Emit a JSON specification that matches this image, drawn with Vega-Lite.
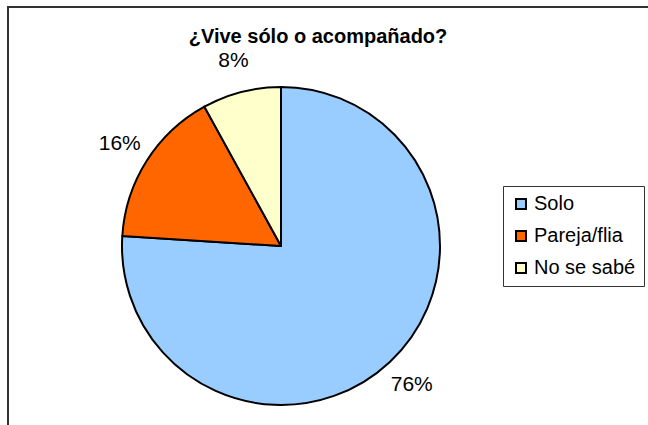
{
  "$schema": "https://vega.github.io/schema/vega-lite/v6.json",
  "width": 660,
  "height": 440,
  "autosize": {"type": "none"},
  "padding": {"left": 8, "top": 7, "right": 0, "bottom": 0},
  "background": "white",
  "view": {"stroke": "#333333", "strokeWidth": 2, "fill": "white"},
  "title": {
    "text": "¿Vive sólo o acompañado?",
    "font": "Liberation Sans",
    "fontSize": 20,
    "fontWeight": "bold",
    "color": "black",
    "anchor": "middle",
    "dx": -20,
    "offset": -60,
    "baseline": "bottom"
  },
  "config": {
    "font": "Liberation Sans"
  },
  "data": {
    "values": [
      {"categoria": "Solo", "valor": 76, "etiqueta": "76%", "orden": 1},
      {"categoria": "Pareja/flia", "valor": 16, "etiqueta": "16%", "orden": 2},
      {"categoria": "No se sabé", "valor": 8, "etiqueta": "8%", "orden": 3}
    ]
  },
  "encoding": {
    "theta": {"field": "valor", "type": "quantitative", "stack": true},
    "order": {"field": "orden", "type": "quantitative"},
    "color": {
      "field": "categoria",
      "type": "nominal",
      "sort": ["Solo", "Pareja/flia", "No se sabé"],
      "scale": {
        "domain": ["Solo", "Pareja/flia", "No se sabé"],
        "range": ["#99CCFF", "#FF6600", "#FFFFCC"]
      },
      "legend": {
        "title": null,
        "orient": "none",
        "legendX": 495,
        "legendY": 179,
        "padding": 8,
        "strokeColor": "#333333",
        "fillColor": "white",
        "symbolType": "square",
        "symbolSize": 100,
        "symbolStrokeColor": "black",
        "symbolStrokeWidth": 2,
        "symbolOpacity": 1,
        "labelFont": "Liberation Sans",
        "labelFontSize": 20,
        "labelColor": "black",
        "labelOffset": 3,
        "rowPadding": 12
      }
    }
  },
  "layer": [
    {
      "mark": {"type": "arc", "x": 273, "y": 239, "outerRadius": 159, "stroke": "black", "strokeWidth": 2, "strokeJoin": "round"}
    },
    {
      "mark": {"type": "text", "x": 273, "y": 239, "radius": 191, "font": "Liberation Sans", "fontSize": 21, "align": "center", "baseline": "middle", "color": "black"},
      "encoding": {
        "text": {"field": "etiqueta", "type": "nominal"},
        "color": {"value": "black"}
      }
    }
  ]
}
